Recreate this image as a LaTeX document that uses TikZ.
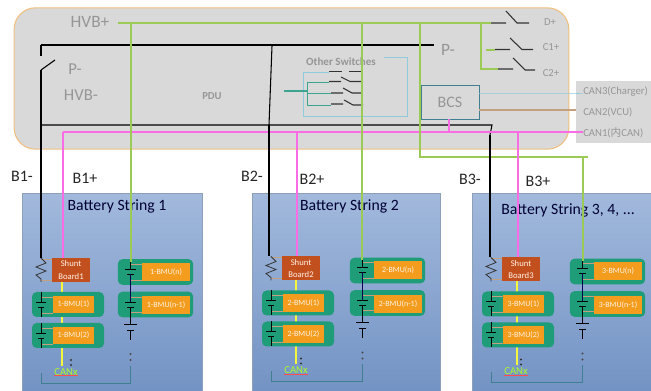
\documentclass[tikz,border=0pt]{standalone}
\usepackage{fontspec}
\setmainfont{Carlito}
\newfontfamily\cjk{Noto Sans CJK SC}
\definecolor{pdugray}{HTML}{D9D9D9}
\definecolor{pduedge}{HTML}{F0C080}
\definecolor{hvgreen}{HTML}{9CCB55}
\definecolor{canpink}{HTML}{FA6CE6}
\definecolor{canyellow}{HTML}{F6F63C}
\definecolor{canblue}{HTML}{8FCBDA}
\definecolor{canbrown}{HTML}{C4A07E}
\definecolor{bmugreen}{HTML}{1F9C78}
\definecolor{bmuorange}{HTML}{F39C1E}
\definecolor{shuntred}{HTML}{C2501F}
\definecolor{labelgray}{HTML}{969696}
\definecolor{switchteal}{HTML}{3DA58F}
\definecolor{bracketteal}{HTML}{3F7F8F}
\definecolor{stringtop}{HTML}{A2B9DC}
\definecolor{stringbottom}{HTML}{7393C4}
\begin{document}
\begin{tikzpicture}[
	x=0.75pt,
	y=-0.75pt,
	pdu/.style={
		rectangle,
		rounded corners=16pt,
		draw=pduedge,
		thick,
		fill=pdugray,
		minimum width=416pt,
		minimum height=106pt
	},
	stringbox/.style={
		rectangle,
		draw=stringtop!80!black!90,
		top color=stringtop,
		bottom color=stringbottom,
		inner sep=0pt,
		minimum height=148.5pt
	},
	graylabel/.style={
		text=labelgray,
		font=\fontsize{#1}{#1}\selectfont,
		inner sep=0pt
	},
	blabel/.style={
		text=black!85,
		font=\fontsize{12}{12}\selectfont,
		inner sep=0pt
	},
	title/.style={
		text=black!80!blue,
		font=\fontsize{11.8}{12}\selectfont,
		inner sep=0pt
	},
	bmu/.style={
		rectangle,
		rounded corners=3.5pt,
		fill=bmugreen,
		minimum width=54pt,
		minimum height=18.75pt,
		inner sep=0pt
	},
	bmuright/.style={
		bmu,
		minimum width=56.5pt,
		minimum height=19.25pt
	},
	cell/.style={
		rectangle,
		fill=bmuorange,
		text=white!90!orange,
		font=\fontsize{6}{6}\selectfont,
		minimum width=31pt,
		minimum height=13pt,
		inner sep=0pt
	},
	cellright/.style={
		cell,
		minimum width=36pt,
		minimum height=13.5pt
	},
	shunt/.style={
		rectangle,
		fill=shuntred,
		text=white!90!orange,
		font=\fontsize{6.5}{9.5}\selectfont,
		align=center,
		minimum width=29pt,
		minimum height=18pt,
		inner sep=0pt
	},
	hv/.style={hvgreen, line width=1pt},
	can/.style={canpink, line width=1.2pt},
	wire/.style={black, line width=0.8pt},
	lead/.style={canbrown, line width=0.5pt},
	sw/.style={black!80, line width=0.8pt}
]
\useasboundingbox (0,0) rectangle (651,391);

% PDU outline
\node [pdu] (PDU box) at (291.5,78.5) {};
\node [anchor=west, fill=pdugray, minimum width=56.25pt, minimum height=46.5pt, inner sep=0pt] (CAN box) at (576,112) {};

% PDU labels
\node [graylabel=13] (HVB+) at (90,22) {HVB+};
\node [graylabel=12.5] (P- left) at (75,69) {P-};
\node [graylabel=12.5] (HVB-) at (81,95) {HVB-};
\node [graylabel=8, font=\fontsize{8}{8}\bfseries] (PDU) at (212,96) {PDU};
\node [graylabel=13] (P- right) at (448,50) {P-};
\node [graylabel=8] (D+) at (550,22) {D+};
\node [graylabel=8] (C1+) at (551,47) {C1+};
\node [graylabel=8] (C2+) at (551,73) {C2+};
\node [graylabel=8, anchor=west] (CAN3) at (583,92) {CAN3(Charger)};
\node [graylabel=8, anchor=west] (CAN2) at (583,112) {CAN2(VCU)};
\node [graylabel=8, anchor=west] (CAN1) at (583,133) {CAN1({\cjk 内}CAN)};
\node [graylabel=8.3, font=\fontsize{8.3}{8.3}\bfseries] (Other) at (341,62) {Other Switches};

% BCS
\node [rectangle, draw=bracketteal, minimum width=43.5pt, minimum height=25.5pt, inner sep=0pt, graylabel=12] (BCS) at (450,102) {BCS};
\draw [canblue, line width=0.7pt] (BCS.east |- 0,93) -- (CAN3.west |- 0,93) -- ++(-7,0);
\draw [canbrown, line width=0.8pt] (BCS.east |- 0,110) -- (576,110);

% Bus points
\coordinate (hvb start) at (118,23);
\coordinate (hvb end) at (491,23);
\coordinate (p start) at (41,45);
\coordinate (p end) at (434,45);
\coordinate (neg start) at (40,125);
\coordinate (neg end) at (492,125);
\coordinate (can start) at (63,132);

% Buses
\draw [hv] (hvb start) -- (hvb end);
\draw [wire] (p start) -- (p end);
\draw [wire] (neg start) -- (neg end) -- (490,135);
\draw [can] (can start) -- (CAN1.west |- can start) -- ++(-6,0);
\draw [can] (BCS.south) ++(-1,0) -- (449,132);

% Left P- switch
\draw [wire] (p start) -- (41,56);
\draw [wire] (41,70) -- (55,60);

% Contactors
\draw [hv] (481,23) -- (481,69) -- (498,69);
\draw [hv] (486,50) -- (495,50);
\draw [sw] (491,23) -- (506,23) (506,11) -- (517,23) -- (529,23);
\draw [sw] (495,49.5) -- (510,49.5) (510,38) -- (522,49.5) -- (533,49.5);
\draw [sw] (498,69) -- (513,69) (513,58) -- (525,70) -- (535,70);

% Other switches
\draw [canblue, line width=0.6pt] (384,57) -- (407,57) -- (407,116) -- (303,116) -- (303,72) -- (329,72);
\draw [switchteal, line width=0.9pt] (284,91) -- (307,91);
\draw [switchteal, line width=0.6pt] (329,82) -- (307,82) -- (307,105) -- (331,105) (307,93.5) -- (331,93.5);
\draw [sw, line width=0.5pt] (329,71.5) -- (342,71.5) (349,71.5) -- (361,71.5);
\draw [sw] (329,81.5) -- (341,81.5) (341,77) -- (350,81.5) -- (361,81.5);
\draw [sw] (331,93) -- (343,93) (343,88) -- (352,93) -- (362,93);
\draw [sw] (331,104) -- (343,104) (344,100) -- (353,105) -- (363,105);

% Branch to string 3
\draw [hv] (420,23) -- (420,157) -- (588,157);

% B labels
\node [blabel] (B1-) at (22,176) {B1-};
\node [blabel] (B1+) at (85,178) {B1+};
\node [blabel] (B2-) at (252,176) {B2-};
\node [blabel] (B2+) at (312,179) {B2+};
\node [blabel] (B3-) at (470,179) {B3-};
\node [blabel] (B3+) at (538,181) {B3+};

% Strings
\foreach \s/\dx/\dy/\dr/\bx/\bt/\px/\gx/\gy/\tx/\ty/\bw/\lbl in {
	1/0/0/0/41/70/63/131/23/117/206/180/{Battery String 1},
	2/230/-1.5/2/269/125/297/362/23/349.5/206/187.5/{Battery String 2},
	3/450/-0.5/2/490/135/518/583/157/568/210/179/{Battery String 3, 4, ...}}{
	\coordinate (blacktop\s) at (\bx,\bt);
	\coordinate (pinktop\s) at (\px,132);
	\coordinate (greentop\s) at (\gx,\gy);
	\coordinate (cantop\s) at (\px-1,\dy+282);
	\coordinate (canend\s) at (\px-1,\dy+366);
	\node [stringbox, anchor=north west, minimum width=\bw*0.75pt] (string\s) at (22+\dx,193) {};
	\node [title] (title\s) at (\tx,\ty) {\lbl};
	\draw [canyellow, line width=1.5pt] (cantop\s) -- (canend\s);
	\begin{scope}[shift={(\dx,\dy)}]
		\node [shunt] (shunt\s) at (71,270) {Shunt\\Board\s};
		\node [bmu] (bmu\s a) at (68,304.5) {};
		\node [cell] (cell\s a) at (73.5,304.5) {\s-BMU(1)};
		\node [bmu] (bmu\s b) at (68,335.5) {};
		\node [cell] (cell\s b) at (73.5,335.5) {\s-BMU(2)};
		\node [bmuright, xshift=\dr*0.75pt] (bmu\s n) at (155.5,272) {};
		\node [cellright, xshift=\dr*0.75pt] (cell\s n) at (166,272) {\s-BMU(n)};
		\node [bmuright, xshift=\dr*0.75pt] (bmu\s m) at (155.5,304.5) {};
		\node [cellright, xshift=\dr*0.75pt] (cell\s m) at (166,305.5) {\s-BMU(n-1)};
		% shunt resistor
		\coordinate (res\s) at (41,258);
		\draw [lead] (41,259) -- (52,259) (41,280) -- (52,280);
		\draw [black!80, line width=0.6pt] (res\s) -- (46,263) -- (36,267) -- (46,271) -- (36,275) -- (41,279) -- (41,282);
		% left cells
		\foreach \y in {0,31}{
			\draw [lead] (41,\y+297) -- (53,\y+297) (41,\y+313) -- (53,\y+313);
			\draw [black, line width=0.6pt] (41,\y+292) -- (41,\y+302) (36,\y+302) -- (46,\y+302)
				(38,\y+307) -- (44,\y+307) (41,\y+307) -- (41,\y+317);
		}
		% right cells
		\begin{scope}[xshift=\dr*0.75pt]
			\draw [lead] (131,264) -- (142,264) (131,280) -- (142,280) (131,297) -- (142,297) (131,312) -- (142,312);
			\draw [black, line width=0.6pt] (125,269) -- (136,269) (127,274) -- (134,274)
				(125,302) -- (136,302) (127,307) -- (134,307)
				(124,324) -- (137,324) (127,330) -- (134,330) (130.5,330) -- (130.5,340)
				(130.5,262) -- (130.5,269) (130.5,307) -- (130.5,324);
			\draw [black!70!blue, line width=0.9pt] (130.5,274) -- (130.5,302);
			\fill [black!70] (130.5,354) circle (0.8pt) (130.5,360) circle (0.8pt);
			% CAN bracket
			\coordinate (bracket\s) at (130.5,366);
		\end{scope}
		\fill [black!80] (71,360) circle (0.8pt) (71,365) circle (0.8pt);
		\coordinate (bracketstart\s) at (41,373);
		\draw [bracketteal, line width=0.6pt] (bracketstart\s) -- (41,383) -| (bracket\s);
		\node [inner sep=0pt, text=canyellow!70!green, font=\fontsize{8}{8}\selectfont] (canx\s) at (66,372) {CANx};
		\draw [red!70, line width=0.4pt] (canx\s.south west) -- (canx\s.south east);
	\end{scope}
	\draw [wire] (blacktop\s) -- (blacktop\s |- res\s);
	\draw [can] (pinktop\s) -- (pinktop\s |- shunt\s.north);
	\draw [hv] (greentop\s) -- (greentop\s |- bmu\s n.north) -- ++(0,3);
}
\draw [wire] (272,46) -- (blacktop2);
\end{tikzpicture}
\end{document}
